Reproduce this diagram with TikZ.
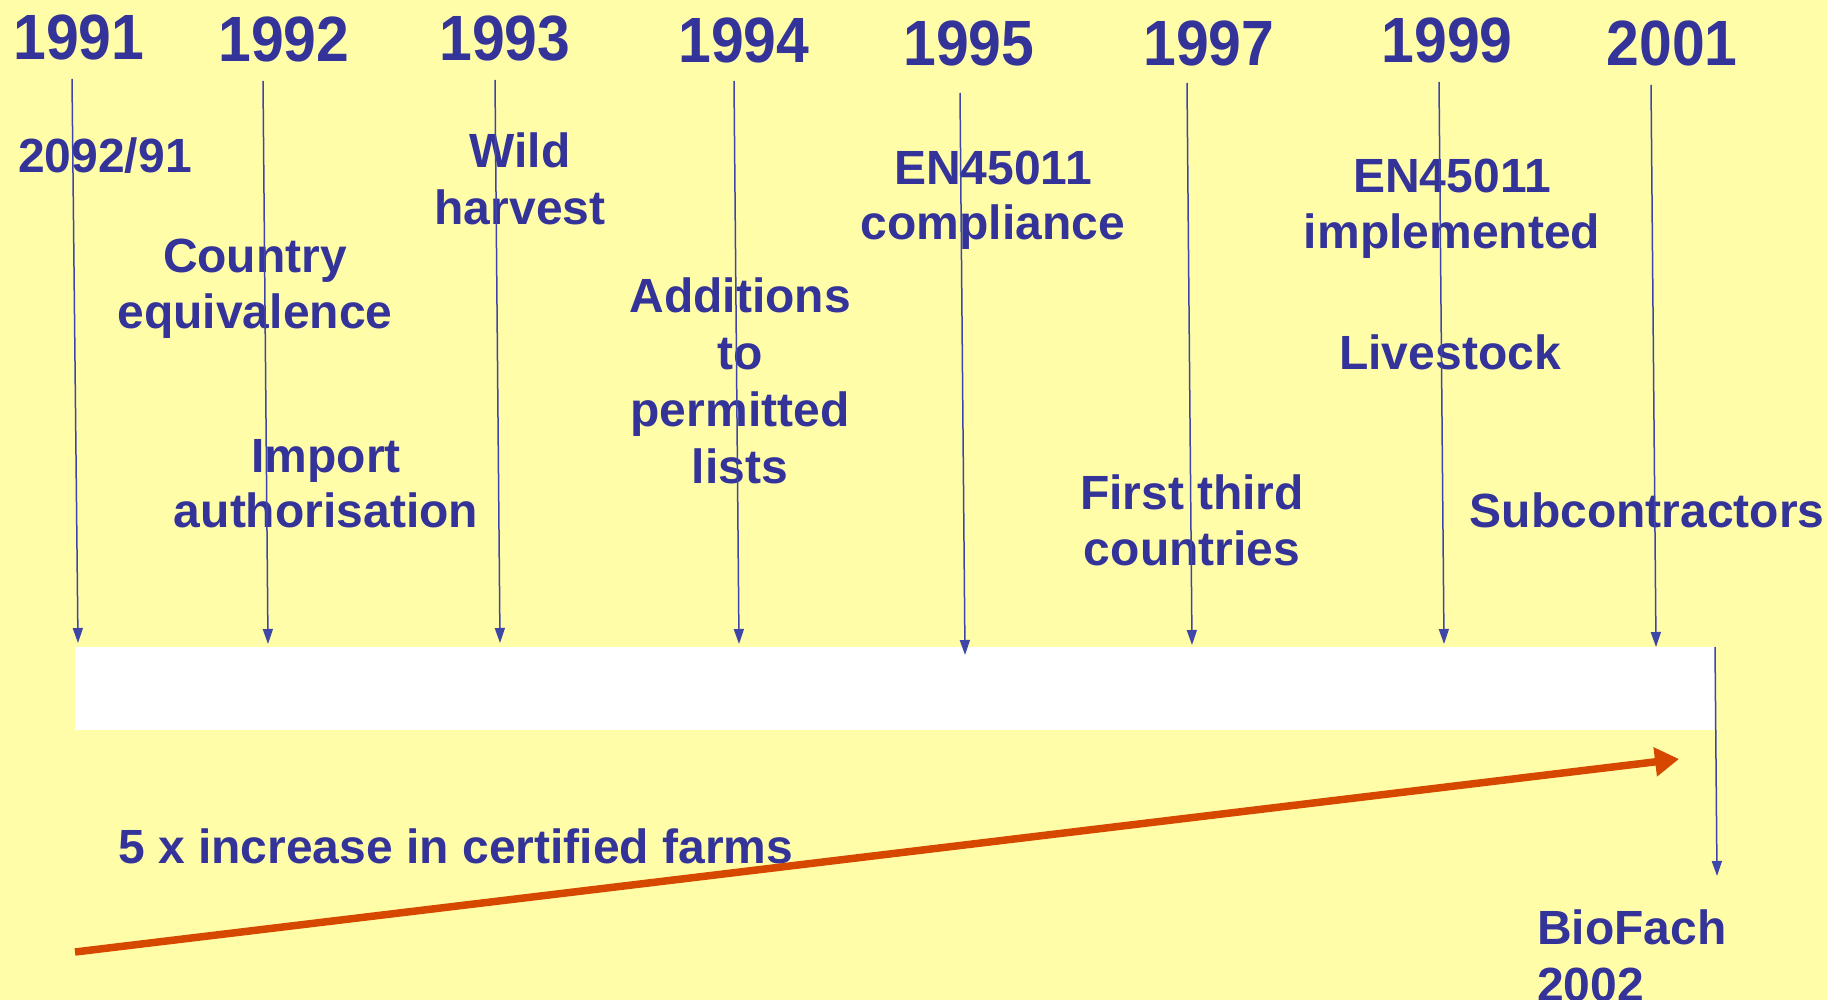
\documentclass[tikz,border=0pt]{standalone}
\usepackage{fontspec}
\setmainfont{Liberation Sans}
\usetikzlibrary{arrows.meta}
\definecolor{bgyellow}{RGB}{255,253,168}
\definecolor{txtblue}{RGB}{51,51,153}
\definecolor{lineblue}{RGB}{62,70,168}
\definecolor{trendorange}{RGB}{214,72,0}
\tikzset{
  year/.style={text=txtblue, font=\fontsize{64}{64}\selectfont\bfseries, inner sep=0pt, anchor=base},
  lbl/.style={text=txtblue, font=\fontsize{48}{56}\selectfont\bfseries, inner sep=0pt, align=center, anchor=base},
  lbll/.style={text=txtblue, font=\fontsize{48}{57}\selectfont\bfseries, inner sep=0pt, align=left, anchor=base west},
  tick/.style={draw=lineblue, line width=1.5pt, -{Triangle[length=15pt,width=10pt]}},
  trend/.style={draw=trendorange, line width=7.5pt, -{Triangle[length=24pt,width=28pt]}}
}
\begin{document}
\begin{tikzpicture}[x=1pt,y=-1pt]
\useasboundingbox (0,0) rectangle (1827,1000);
\fill[bgyellow] (0,0) rectangle (1827,1000);
\begin{scope}
\clip (0,0) rectangle (1827,1000);
% timeline bar
\fill[white] (75,647) rectangle (1715,730);
% years
\node[year] (y1991) at (79,60) {\scalebox{0.92}[1]{1991}};
\node[year] (y1992) at (284,62) {\scalebox{0.92}[1]{1992}};
\node[year] (y1993) at (505,61) {\scalebox{0.92}[1]{1993}};
\node[year] (y1994) at (744,63) {\scalebox{0.92}[1]{1994}};
\node[year] (y1995) at (969,66) {\scalebox{0.92}[1]{1995}};
\node[year] (y1997) at (1209,66) {\scalebox{0.92}[1]{1997}};
\node[year] (y1999) at (1447,63) {\scalebox{0.92}[1]{1999}};
\node[year] (y2001) at (1672,66) {\scalebox{0.92}[1]{2001}};
% labels (multi-line nodes anchored at the baseline of their last line)
\node[lbl] (l2092) at (105,173) {2092/91};
\node[lbl] (lcountry) at (255,328) {Country\\equivalence};
\node[lbl, font=\fontsize{48}{55}\selectfont\bfseries] (limport) at (326,527) {Import\\authorisation};
\node[lbl, font=\fontsize{48}{57}\selectfont\bfseries] (lwild) at (520,225) {Wild\\harvest};
\node[lbl, font=\fontsize{48}{56.7}\selectfont\bfseries] (ladd) at (740,483) {Additions\\to\\permitted\\lists};
\node[lbl, font=\fontsize{48}{55}\selectfont\bfseries] (len1) at (993,240) {EN45011\\compliance};
\node[lbl] (lfirst) at (1192,565) {First third\\countries};
\node[lbl, font=\fontsize{48}{55}\selectfont\bfseries] (len2) at (1452,248) {EN45011\\implemented};
\node[lbl] (llive) at (1450,369) {Livestock};
\node[lbl] (lsub) at (1647,527) {Subcontractors};
\node[lbll] (lfarms) at (118,863) {5 x increase in certified farms};
\node[lbll] (lbiofach) at (1537,1001) {BioFach\\2002};
% tick arrows
\coordinate (t1) at (72,79);   \coordinate (b1) at (78,643);
\coordinate (t2) at (263,81);  \coordinate (b2) at (268,644);
\coordinate (t3) at (495,80);  \coordinate (b3) at (500,643);
\coordinate (t4) at (734,81);  \coordinate (b4) at (739,644);
\coordinate (t5) at (960,93);  \coordinate (b5) at (965,655);
\coordinate (t6) at (1187,83); \coordinate (b6) at (1192,645);
\coordinate (t7) at (1439,82); \coordinate (b7) at (1444,644);
\coordinate (t8) at (1651,85); \coordinate (b8) at (1656,647);
\coordinate (t9) at (1715,647); \coordinate (b9) at (1717,876);
\foreach \i in {1,...,9} { \draw[tick] (t\i) -- (b\i); }
% trend arrow
\coordinate (ts) at (75,952);
\coordinate (te) at (1679,759);
\draw[trend] (ts) -- (te);
\end{scope}
\end{tikzpicture}
\end{document}
